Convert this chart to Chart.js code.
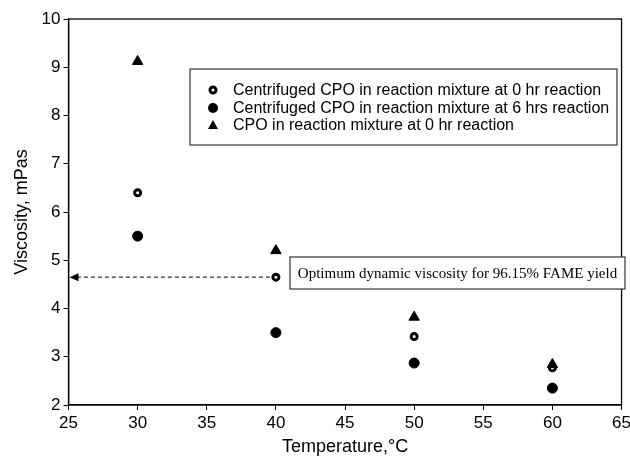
<!DOCTYPE html>
<html>
<head>
<meta charset="utf-8">
<script src="https://cdn.jsdelivr.net/npm/chart.js@4"></script>
<style>
  html, body { margin: 0; padding: 0; background: #fff; overflow: hidden; }
  #wrap { width: 630px; height: 458px; overflow: hidden; }
</style>
</head>
<body>
<div id="wrap"><canvas id="viscPlot" width="634" height="458"></canvas></div>
<script>
const temperatures = [30, 40, 50, 60];
const centrifuged0hr = [6.4, 4.65, 3.42, 2.77];
const centrifuged6hrs = [5.5, 3.5, 2.87, 2.35];
const cpo0hr = [9.12, 5.2, 3.82, 2.84];
const seriesLabels = [
    'Centrifuged CPO in reaction mixture at 0 hr reaction',
    'Centrifuged CPO in reaction mixture at 6 hrs reaction',
    'CPO in reaction mixture at 0 hr reaction'
];
const optimumText = 'Optimum dynamic viscosity for 96.15% FAME yield';
const optimumViscosity = 4.65;
const optimumTemp = 40;

function toPoints(values) {
    return temperatures.map((t, i) => ({ x: t, y: values[i] }));
}

const sans = '"Liberation Sans", Arial, sans-serif';

// frame, legend box and the annotation with its dashed arrow
const extras = {
    id: 'extras',
    afterDraw(chart) {
        const ctx = chart.ctx;
        const area = chart.chartArea;
        const xs = chart.scales.x;
        const ys = chart.scales.y;
        ctx.save();

        ctx.strokeStyle = '#000';
        ctx.lineWidth = 1.3;
        ctx.strokeRect(area.left, area.top, area.right - area.left, area.bottom - area.top);

        // legend (order as in the figure)
        const lx = 190, ly = 69, lw = 427, lh = 76;
        ctx.fillStyle = '#fff';
        ctx.fillRect(lx, ly, lw, lh);
        ctx.strokeStyle = '#333';
        ctx.lineWidth = 1.2;
        ctx.strokeRect(lx, ly, lw, lh);
        ctx.font = '16px ' + sans;
        ctx.textBaseline = 'middle';
        const rows = [90, 108, 125];
        seriesLabels.forEach((label, i) => {
            const cx = 213, cy = rows[i];
            ctx.fillStyle = '#000';
            ctx.strokeStyle = '#000';
            ctx.beginPath();
            if (i === 2) {
                ctx.moveTo(cx, cy - 5);
                ctx.lineTo(cx + 5, cy + 4);
                ctx.lineTo(cx - 5, cy + 4);
                ctx.closePath();
                ctx.fill();
            } else if (i === 1) {
                ctx.arc(cx, cy, 5, 0, Math.PI * 2);
                ctx.fill();
            } else {
                ctx.lineWidth = 3;
                ctx.arc(cx, cy, 3, 0, Math.PI * 2);
                ctx.fillStyle = '#fff';
                ctx.fill();
                ctx.stroke();
            }
            ctx.fillStyle = '#000';
            ctx.fillText(label, 233, cy + 1);
        });

        // dashed arrow
        const py = ys.getPixelForValue(optimumViscosity);
        const px = xs.getPixelForValue(optimumTemp) - 6;
        ctx.strokeStyle = '#000';
        ctx.lineWidth = 1;
        ctx.setLineDash([4, 3]);
        ctx.beginPath();
        ctx.moveTo(px, py);
        ctx.lineTo(area.left + 8, py);
        ctx.stroke();
        ctx.setLineDash([]);
        ctx.beginPath();
        ctx.moveTo(area.left + 1, py);
        ctx.lineTo(area.left + 10, py - 4);
        ctx.lineTo(area.left + 10, py + 4);
        ctx.closePath();
        ctx.fillStyle = '#000';
        ctx.fill();

        // annotation box
        const bx = 290, by = 257, bw = 335, bh = 32;
        ctx.fillStyle = '#fff';
        ctx.fillRect(bx, by, bw, bh);
        ctx.strokeStyle = '#333';
        ctx.lineWidth = 1.2;
        ctx.strokeRect(bx, by, bw, bh);
        ctx.fillStyle = '#000';
        ctx.font = '15px "Liberation Serif", "Times New Roman", serif';
        ctx.textAlign = 'center';
        ctx.fillText(optimumText, bx + bw / 2, by + bh / 2 + 1);
        ctx.restore();
    }
};

const ctx = document.getElementById('viscPlot').getContext('2d');
new Chart(ctx, {
    type: 'scatter',
    data: {
        datasets: [
            {
                label: seriesLabels[2],
                data: toPoints(cpo0hr),
                pointStyle: 'triangle',
                pointRadius: 6,
                backgroundColor: '#000',
                borderColor: '#000',
                borderWidth: 1
            },
            {
                label: seriesLabels[0],
                data: toPoints(centrifuged0hr),
                pointStyle: 'circle',
                pointRadius: 3,
                backgroundColor: '#fff',
                borderColor: '#000',
                borderWidth: 3
            },
            {
                label: seriesLabels[1],
                data: toPoints(centrifuged6hrs),
                pointStyle: 'circle',
                pointRadius: 5,
                backgroundColor: '#000',
                borderColor: '#000',
                borderWidth: 1
            }
        ]
    },
    options: {
        responsive: false,
        animation: false,
        layout: { padding: { top: 19, right: 7, left: 11, bottom: 0 } },
        plugins: { legend: { display: false }, tooltip: { enabled: false } },
        scales: {
            x: {
                type: 'linear',
                min: 25,
                max: 65,
                ticks: { stepSize: 5, color: '#000', font: { size: 17, family: sans }, padding: 3 },
                grid: { drawOnChartArea: false, drawTicks: true, tickLength: 5, color: '#000' },
                border: { color: '#000', width: 1.3 },
                title: { display: true, text: 'Temperature,°C', color: '#000', font: { size: 18, family: sans }, padding: { top: 0, bottom: 0 } }
            },
            y: {
                min: 2,
                max: 10,
                ticks: { stepSize: 1, color: '#000', font: { size: 17, family: sans }, padding: 3 },
                grid: { drawOnChartArea: false, drawTicks: true, tickLength: 5, color: '#000' },
                border: { color: '#000', width: 1.3 },
                title: { display: true, text: 'Viscosity, mPas', color: '#000', font: { size: 18, family: sans }, padding: { top: 0, bottom: 6 } }
            }
        }
    },
    plugins: [extras]
});
</script>
</body>
</html>
